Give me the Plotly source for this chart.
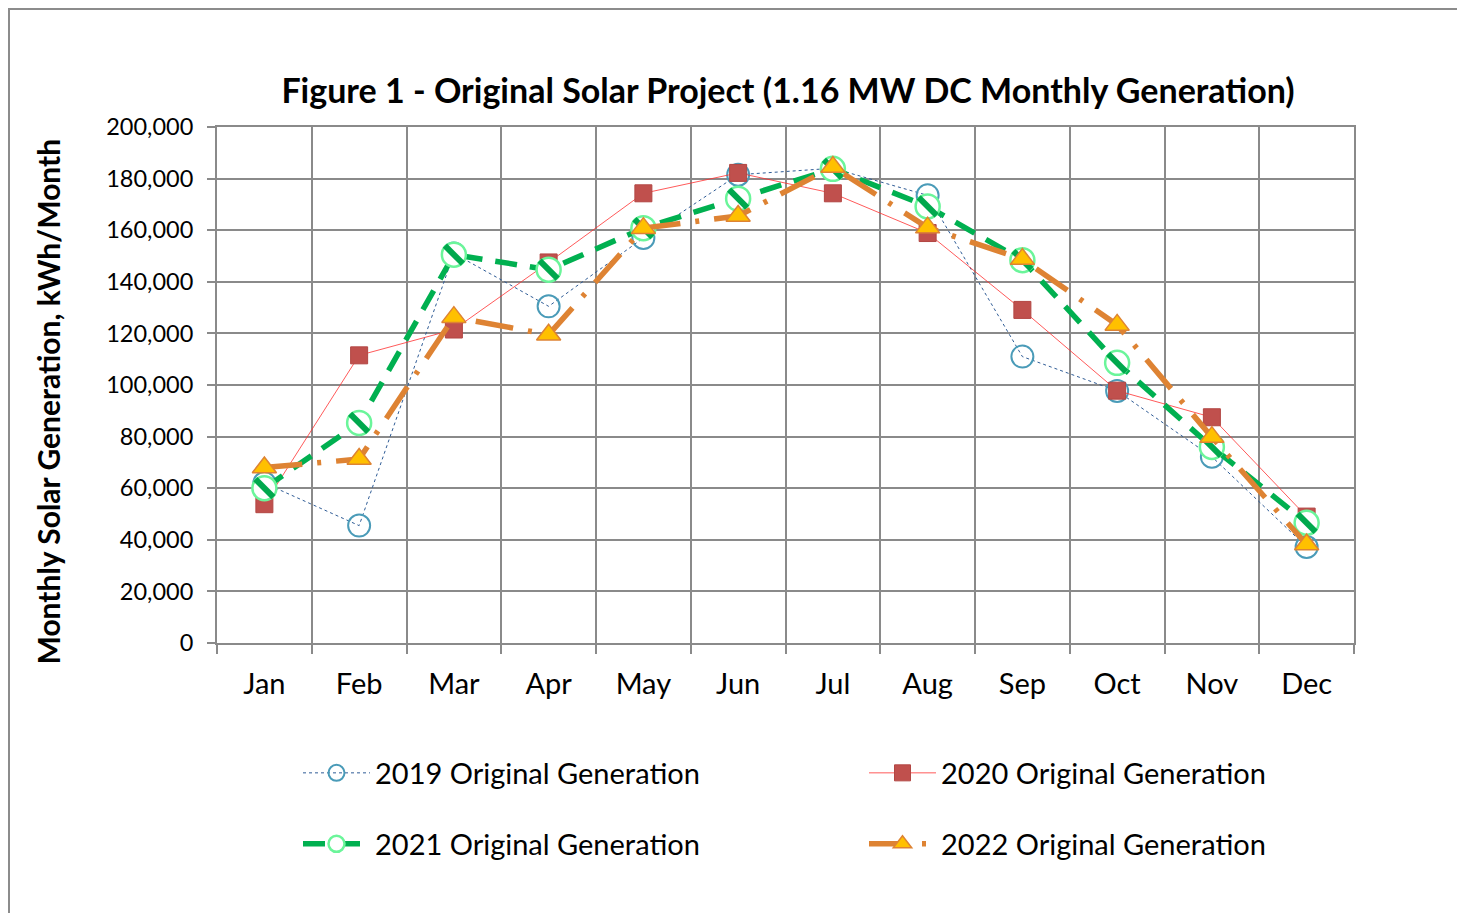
import plotly.graph_objects as go

months = ["Jan", "Feb", "Mar", "Apr", "May", "Jun", "Jul", "Aug", "Sep", "Oct", "Nov", "Dec"]
gen_2019 = [62000, 45500, 151000, 130500, 157000, 181500, 184000, 173500, 111000, 97700, 72200, 37200]
gen_2020 = [53800, 111500, 121500, 147500, 174300, 182200, 174300, 158900, 129100, 97800, 87500, 49000]
gen_2021 = [60000, 85300, 150500, 144700, 160800, 172200, 183800, 169200, 148400, 108600, 76000, 46600]
gen_2022 = [68000, 71300, 126300, 119500, 160800, 165500, 184500, 161000, 148800, 123300, 79800, 38200]
y_ticks = [0, 20000, 40000, 60000, 80000, 100000, 120000, 140000, 160000, 180000, 200000]

FONT = "Lato"
OFF = 8  # page body margin offset
PX0, PW = 217, 1137   # plot area left / width on screen
PY0, PH = 643, 516    # plot area bottom / height on screen


def px(sx):
    return (sx - PX0) / PW


def py(sy):
    return (PY0 - sy) / PH


fig = go.Figure()

fig.add_trace(go.Scatter(
    x=months, y=gen_2019, name="2019 Original Generation", mode="lines+markers",
    line=dict(color="#2F5C96", width=1, dash="dot"),
    marker=dict(symbol="circle", size=22, color="rgba(0,0,0,0)",
                line=dict(color="#4A9BB8", width=2)),
    legend="legend"))
fig.add_trace(go.Scatter(
    x=months, y=gen_2020, name="2020 Original Generation", mode="lines+markers",
    line=dict(color="#FF3030", width=0.8),
    marker=dict(symbol="square", size=17, color="#C0504D",
                line=dict(color="#B24643", width=1)),
    legend="legend2"))
fig.add_trace(go.Scatter(
    x=months, y=gen_2021, name="2021 Original Generation", mode="lines+markers",
    line=dict(color="#00B050", width=5.5, dash="22px,13px"),
    marker=dict(symbol="circle", size=24, color="white",
                line=dict(color="#6BF59A", width=2.5)),
    legend="legend3"))
fig.add_trace(go.Scatter(
    x=months, y=gen_2021, name="2021 stripes", mode="markers", showlegend=False,
    marker=dict(symbol="line-nw", size=18, color="#00A84D",
                line=dict(color="#00A84D", width=6)),
    hoverinfo="skip"))
fig.add_trace(go.Scatter(
    x=months, y=gen_2022, name="2022 Original Generation", mode="lines+markers",
    line=dict(color="#DE8333", width=5.5, dash="38px,15px,4px,15px"),
    marker=dict(symbol="triangle-up", size=21, color="#FFC000",
                line=dict(color="#DE8333", width=1.5)),
    legend="legend4"))

grid = "#8A8A8A"


def leg(sx, sy):
    return dict(orientation="h", x=px(sx), xanchor="left", y=py(sy), yanchor="middle",
                itemwidth=67, font=dict(family=FONT, size=29, color="black"),
                bgcolor="rgba(0,0,0,0)")


fig.update_layout(
    width=1465, height=913,
    margin=dict(l=PX0 - OFF, r=1465 - (PX0 + PW - OFF), t=(PY0 - PH) - OFF, b=913 - (PY0 - OFF)),
    paper_bgcolor="white", plot_bgcolor="white",
    font=dict(family=FONT, color="black"),
    title=dict(text="<b>Figure 1 - Original Solar Project (1.16 MW DC Monthly Generation)</b>",
               x=(788 - OFF) / 1465, xanchor="center", y=1 - (91 - OFF) / 913, yanchor="middle",
               font=dict(family=FONT, size=34, color="black")),
    xaxis=dict(type="category", tickson="boundaries", showgrid=True, gridcolor=grid, gridwidth=2,
               showline=True, linecolor=grid, linewidth=2, mirror=True,
               ticks="outside", ticklen=9, tickwidth=2, tickcolor=grid,
               tickfont=dict(family=FONT, size=29, color="black"), ticklabelstandoff=14,
               range=[-0.5, 11.5], zeroline=False),
    yaxis=dict(range=[0, 200000], tickvals=y_ticks, tickformat=",", showgrid=True,
               gridcolor=grid, gridwidth=2, showline=True, linecolor=grid, linewidth=2, mirror=True,
               ticks="outside", ticklen=8, tickwidth=2, tickcolor=grid,
               tickfont=dict(family=FONT, size=23.5, color="black"), ticklabelstandoff=9,
               zeroline=False),
    legend=leg(298, 773),
    legend2=leg(864, 773),
    legend3=leg(298, 844),
    legend4=leg(864, 844),
    annotations=[dict(text="<b>Monthly Solar Generation, kWh/Month</b>", textangle=-90,
                      xref="paper", yref="paper", x=px(47), y=py(401.5),
                      xanchor="center", yanchor="middle", showarrow=False,
                      font=dict(family=FONT, size=30, color="black"))],
    shapes=[dict(type="rect", xref="paper", yref="paper",
                 x0=px(OFF + 1), x1=px(1458),
                 y0=py(935), y1=py(OFF + 1),
                 line=dict(color="#8C8C8C", width=2), fillcolor="rgba(0,0,0,0)", layer="below")],
)

fig.write_html("out.html")
